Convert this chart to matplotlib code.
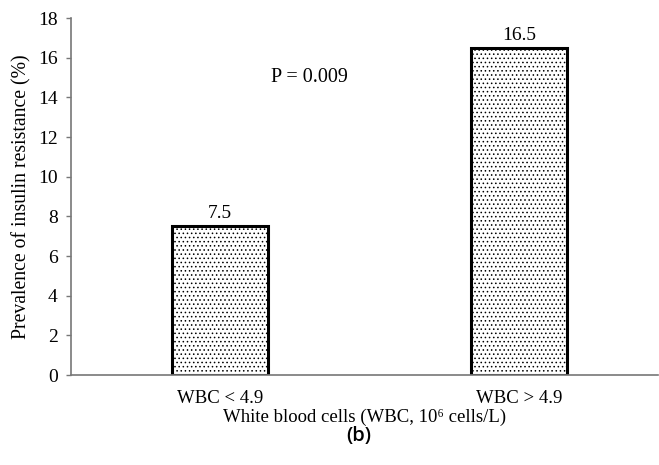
import matplotlib.pyplot as plt
import matplotlib as mpl

groups = ['WBC < 4.9', 'WBC > 4.9']
prevalence = [7.5, 16.5]
yticks = [0, 2, 4, 6, 8, 10, 12, 14, 16, 18]

mpl.rcParams['font.family'] = 'Liberation Serif'
mpl.rcParams['hatch.linewidth'] = 0.6
mpl.rcParams['hatch.color'] = '#333333'

fig = plt.figure(figsize=(6.59, 4.65), dpi=100)
ax = fig.add_axes([0.1077, 0.1935, 0.891, 0.7675])

x = range(len(groups))
bars = ax.bar(x, prevalence, width=0.32, color='white', edgecolor='black',
              linewidth=2.2, hatch='....')

for xi, v in zip(x, prevalence):
    ax.annotate(f'{v}', (xi, v), xytext=(0, 3), textcoords='offset points',
                ha='center', va='bottom', fontsize=14)

ax.text(0.30, 15.0, 'P = 0.009', ha='center', va='center', fontsize=14.5)

ax.set_xlim(-0.498, 1.465)
ax.set_ylim(0, 18)
ax.set_yticks(yticks)
ax.set_xticks(list(x))
ax.set_xticklabels(groups, fontsize=13.5)
ax.tick_params(axis='x', length=0, pad=11)
ax.tick_params(axis='y', direction='out', length=3.5, width=1, color='#777777',
               labelsize=14, pad=6)

for s in ['top', 'right']:
    ax.spines[s].set_visible(False)
for s in ['left', 'bottom']:
    ax.spines[s].set_color('#777777')
    ax.spines[s].set_linewidth(1.2)

ax.set_ylabel('Prevalence of insulin resistance (%)', fontsize=14.2, labelpad=5)
ax.set_xlabel('White blood cells (WBC, 10⁶ cells/L)', fontsize=13.5, labelpad=1)

fig.text(0.545, 0.062, '(b)', ha='center', va='center', fontsize=14.5,
         family='Open Sans', weight='semibold')

fig.savefig('out.png', dpi=100)
